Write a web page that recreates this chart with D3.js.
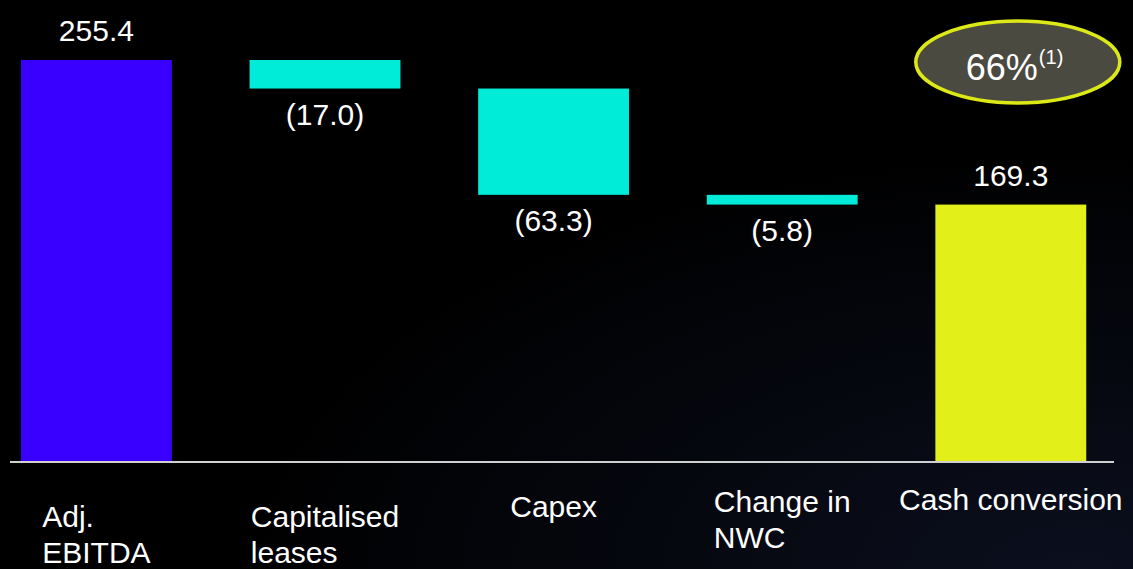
<!DOCTYPE html>
<html>
<head>
<meta charset="utf-8">
<script src="https://cdn.jsdelivr.net/npm/d3@7/dist/d3.min.js"></script>
<style>
  html, body { margin: 0; padding: 0; background: #000; overflow: hidden; }
  svg { display: block; }
  text { font-family: "Liberation Sans", Arial, Helvetica, sans-serif; fill: #fff; }
</style>
</head>
<body>
<svg id="chart" width="1133" height="569"></svg>
<script>
// Cash conversion bridge (EUR m)
const categories = ["Adj. EBITDA", "Capitalised leases", "Capex", "Change in NWC", "Cash conversion"];
const labelLines = [["Adj.", "EBITDA"], ["Capitalised", "leases"], ["Capex"], ["Change in", "NWC"], ["Cash conversion"]];
const values = [255.4, -17.0, -63.3, -5.8, 169.3];
const kinds = ["total", "delta", "delta", "delta", "total"];
const valueLabels = ["255.4", "(17.0)", "(63.3)", "(5.8)", "169.3"];
const conversionLabel = "66%";
const conversionNote = "(1)";

// layout
const W = 1133, H = 569;
const baseY = 462;
const labelBaseline = [527, 527, 517, 512, 510];
const colors = { total0: "#3a00ff", delta: "#00ecd8", total1: "#e3ef19" };

const svg = d3.select("#chart");

// faint blue haze in the lower right of the dark background
const defs = svg.append("defs");
const rg = defs.append("radialGradient").attr("id", "haze")
  .attr("cx", "0.95").attr("cy", "1.0").attr("r", "0.75");
rg.append("stop").attr("offset", "0").attr("stop-color", "#0b0f1e");
rg.append("stop").attr("offset", "1").attr("stop-color", "#000000");
svg.append("rect").attr("width", W).attr("height", H).attr("fill", "url(#haze)");

const x = d3.scaleBand()
  .domain(categories)
  .range([-17.9, 1125.1])
  .paddingInner(0.34)
  .paddingOuter(0.17);

const y = d3.scaleLinear().domain([16, 255.4]).range([baseY, 60]);

// running totals for the floating bars
let running = 0;
const bars = categories.map((c, i) => {
  let lo, hi;
  if (kinds[i] === "total") {
    running = values[i];
    lo = y.domain()[0]; hi = values[i];
  } else {
    hi = running; running += values[i]; lo = running;
  }
  return { cat: c, i, lo, hi, kind: kinds[i], label: valueLabels[i] };
});

const fillFor = d => d.kind === "delta" ? colors.delta : (d.i === 0 ? colors.total0 : colors.total1);

svg.append("g").selectAll("rect")
  .data(bars).join("rect")
  .attr("x", d => x(d.cat))
  .attr("width", x.bandwidth())
  .attr("y", d => y(d.hi))
  .attr("height", d => y(d.lo) - y(d.hi))
  .attr("fill", fillFor);

// value labels: above totals, below deltas
svg.append("g").selectAll("text")
  .data(bars).join("text")
  .attr("x", d => x(d.cat) + x.bandwidth() / 2)
  .attr("y", d => d.kind === "total" ? y(d.hi) - 19 : y(d.lo) + 36)
  .attr("text-anchor", "middle")
  .attr("font-size", 30)
  .text(d => d.label);

// baseline
svg.append("line")
  .attr("x1", 10).attr("x2", 1114)
  .attr("y1", baseY).attr("y2", baseY)
  .attr("stroke", "#d0d0d0").attr("stroke-width", 2);

// category labels: left-aligned blocks centred under each bar
const catG = svg.append("g");
categories.forEach((c, i) => {
  const g = catG.append("g");
  const t = g.append("text")
    .attr("font-size", 30);
  labelLines[i].forEach((line, k) => {
    t.append("tspan").attr("x", 0).attr("y", labelBaseline[i] + k * 36).text(line);
  });
  const bb = t.node().getBBox();
  const cx = x(c) + x.bandwidth() / 2;
  g.attr("transform", `translate(${cx - bb.width / 2},0)`);
});

// cash conversion callout
const cx5 = x(categories[4]) + x.bandwidth() / 2 + 7;
svg.append("ellipse")
  .attr("cx", cx5).attr("cy", 62)
  .attr("rx", 102).attr("ry", 41)
  .attr("fill", "#4a4a41")
  .attr("stroke", "#dde916").attr("stroke-width", 3.5);
const ct = svg.append("text")
  .attr("x", cx5 - 52).attr("y", 80)
  .attr("font-size", 36);
ct.append("tspan").text(conversionLabel);
ct.append("tspan").attr("font-size", 20).attr("dy", -16).attr("dx", 1).text(conversionNote);
</script>
</body>
</html>
